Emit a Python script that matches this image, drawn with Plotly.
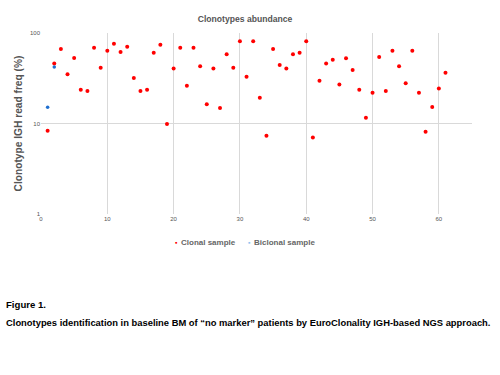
import plotly.graph_objects as go

clonal_x = list(range(1, 62))
clonal_y = [8.3, 46, 66.6, 35, 53, 23.6, 22.9, 68.9, 41.4, 63.8,
            76.3, 61.7, 70.6, 31.8, 22.9, 23.6, 60.5, 74.3, 9.9, 40.4,
            68.9, 26.2, 68.9, 42.9, 16.3, 40.4, 14.8, 58.1, 41.4, 81,
            32.9, 81, 19.3, 7.3, 66.6, 44.3, 40.4, 58.1, 60.5, 81,
            7.0, 29.7, 46, 50.7, 26.9, 52.5, 39, 23.6, 11.6, 21.9,
            54.4, 22.9, 63.8, 42.9, 27.8, 63.8, 21.9, 8.1, 15.2, 24.3,
            36.4]
biclonal_x = [1, 2]
biclonal_y = [15.1, 42]
x_ticks = [0, 10, 20, 30, 40, 50, 60]
y_ticks = [1, 10, 100]
series_names = ["Clonal sample", "Biclonal sample"]
series_colors = ["#ff0000", "#1f6fd0"]
legend_colors = ["#ff0000", "#8fc3ef"]

fig = go.Figure()
fig.add_trace(go.Scatter(x=clonal_x, y=clonal_y, mode="markers", name=series_names[0],
                         marker=dict(color=series_colors[0], size=4, symbol="circle")))
fig.add_trace(go.Scatter(x=biclonal_x, y=biclonal_y, mode="markers", name=series_names[1],
                         marker=dict(color=series_colors[1], size=3.5, symbol="circle")))

grid = "#d9d9d9"
FONT = "Liberation Sans, Arial, sans-serif"
fig.update_layout(
    width=500, height=375,
    paper_bgcolor="white", plot_bgcolor="white",
    margin=dict(l=41, r=28, t=33, b=161),
    font=dict(family=FONT, color="#555555"),
    title=dict(text="<b>Clonotypes abundance</b>", x=245/500, xanchor="center", y=1 - 19/375, yanchor="middle",
               font=dict(size=8.6, color="#555555")),
    xaxis=dict(range=[0, 65], tickvals=x_ticks, showgrid=True, gridcolor=grid, gridwidth=1,
               zeroline=False, showline=False, ticks="", tickfont=dict(size=6, color="#555555")),
    yaxis=dict(type="log", range=[0, 2], tickvals=y_ticks, ticktext=[str(v) for v in y_ticks],
               showgrid=True, gridcolor=grid, gridwidth=1, zeroline=False, showline=False, ticks="",
               tickfont=dict(size=6, color="#555555"),
               title=dict(text="<b>Clonotype IGH read freq (%)</b>", font=dict(size=10.2, color="#555555"), standoff=5)),
    showlegend=False,
)

W = 431.0
H = 181.0
legend_items = [(176, 181), (249, 254)]
for (mx, tx), name, col in zip(legend_items, series_names, legend_colors):
    fig.add_annotation(text="<b>▪</b>", xref="paper", yref="paper", x=(mx - 41) / W, xanchor="center",
                       y=-(242 - 214) / H, yanchor="middle", showarrow=False,
                       font=dict(size=7, color=col, family=FONT))
    fig.add_annotation(text="<b>" + name + "</b>", xref="paper", yref="paper", x=(tx - 41 - 2) / W, xanchor="left",
                       y=-(242 - 214) / H, yanchor="middle", showarrow=False,
                       font=dict(size=8, color="#666666", family=FONT))

fig.add_annotation(text="<b>Figure 1.</b>", xref="paper", yref="paper",
                   x=-37/W, xanchor="left", y=-(304-214)/H, yanchor="middle",
                   showarrow=False, font=dict(size=9.6, color="#000000", family=FONT))
fig.add_annotation(text="<b>Clonotypes identification in baseline BM of “no marker” patients by EuroClonality IGH-based NGS approach.</b>",
                   xref="paper", yref="paper",
                   x=-37/W, xanchor="left", y=-(322-214)/H, yanchor="middle",
                   showarrow=False, font=dict(size=9.4, color="#000000", family=FONT))

fig.write_html("out.html", config={"displayModeBar": False},
               post_script="document.body.style.margin='0px';")
